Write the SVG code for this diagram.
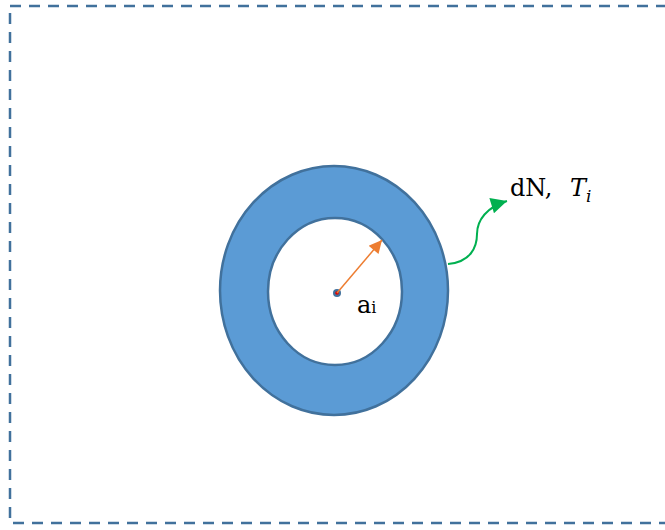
<svg xmlns="http://www.w3.org/2000/svg" width="665" height="530" viewBox="0 0 665 530">
<style>
.t{font-family:"DejaVu Serif","Liberation Serif",serif;font-size:24px;fill:#000}
</style>
<defs>
<marker id="ao" viewBox="0 0 10 10" refX="10" refY="5" markerWidth="15" markerHeight="13" orient="auto" markerUnits="userSpaceOnUse"><path d="M0,0L10,5L0,10z" fill="#ED7D31"/></marker>
<marker id="ag" viewBox="0 0 10 10" refX="10" refY="5" markerWidth="18" markerHeight="16" orient="auto" markerUnits="userSpaceOnUse"><path d="M0,0L10,5L0,10z" fill="#00B050"/></marker>
</defs>
<rect x="10" y="6" width="670" height="517" fill="none" stroke="#41719C" stroke-width="2.5" stroke-dasharray="11,8"/>
<g id="ring">
<path d="M220,290.5a114,124.5 0 1,0 228,0a114,124.5 0 1,0 -228,0z M268,291.5a67,73.5 0 1,0 134,0a67,73.5 0 1,0 -134,0z" fill="#5B9BD5" fill-rule="evenodd" stroke="#41719C" stroke-width="2.5"/>
</g>
<g id="center">
<circle cx="337" cy="293" r="4" fill="#41719C"/>
<circle cx="337" cy="293" r="1.8" fill="#E00000"/>
<text class="t" x="357" y="313" font-size="25">a<tspan font-size="16">i</tspan></text>
</g>
<g id="connectors">
<line x1="337" y1="293" x2="382" y2="240" stroke="#ED7D31" stroke-width="1.5" marker-end="url(#ao)"/>
<path d="M448,264C470,262 477,248 477,234C477,220 487,207 507,201" fill="none" stroke="#00B050" stroke-width="2" marker-end="url(#ag)"/>
</g>
<g id="label">
<text class="t" x="510" y="196">dN,<tspan x="570" font-style="italic">T</tspan><tspan font-style="italic" font-size="17" dy="6">i</tspan></text>
</g>
</svg>
